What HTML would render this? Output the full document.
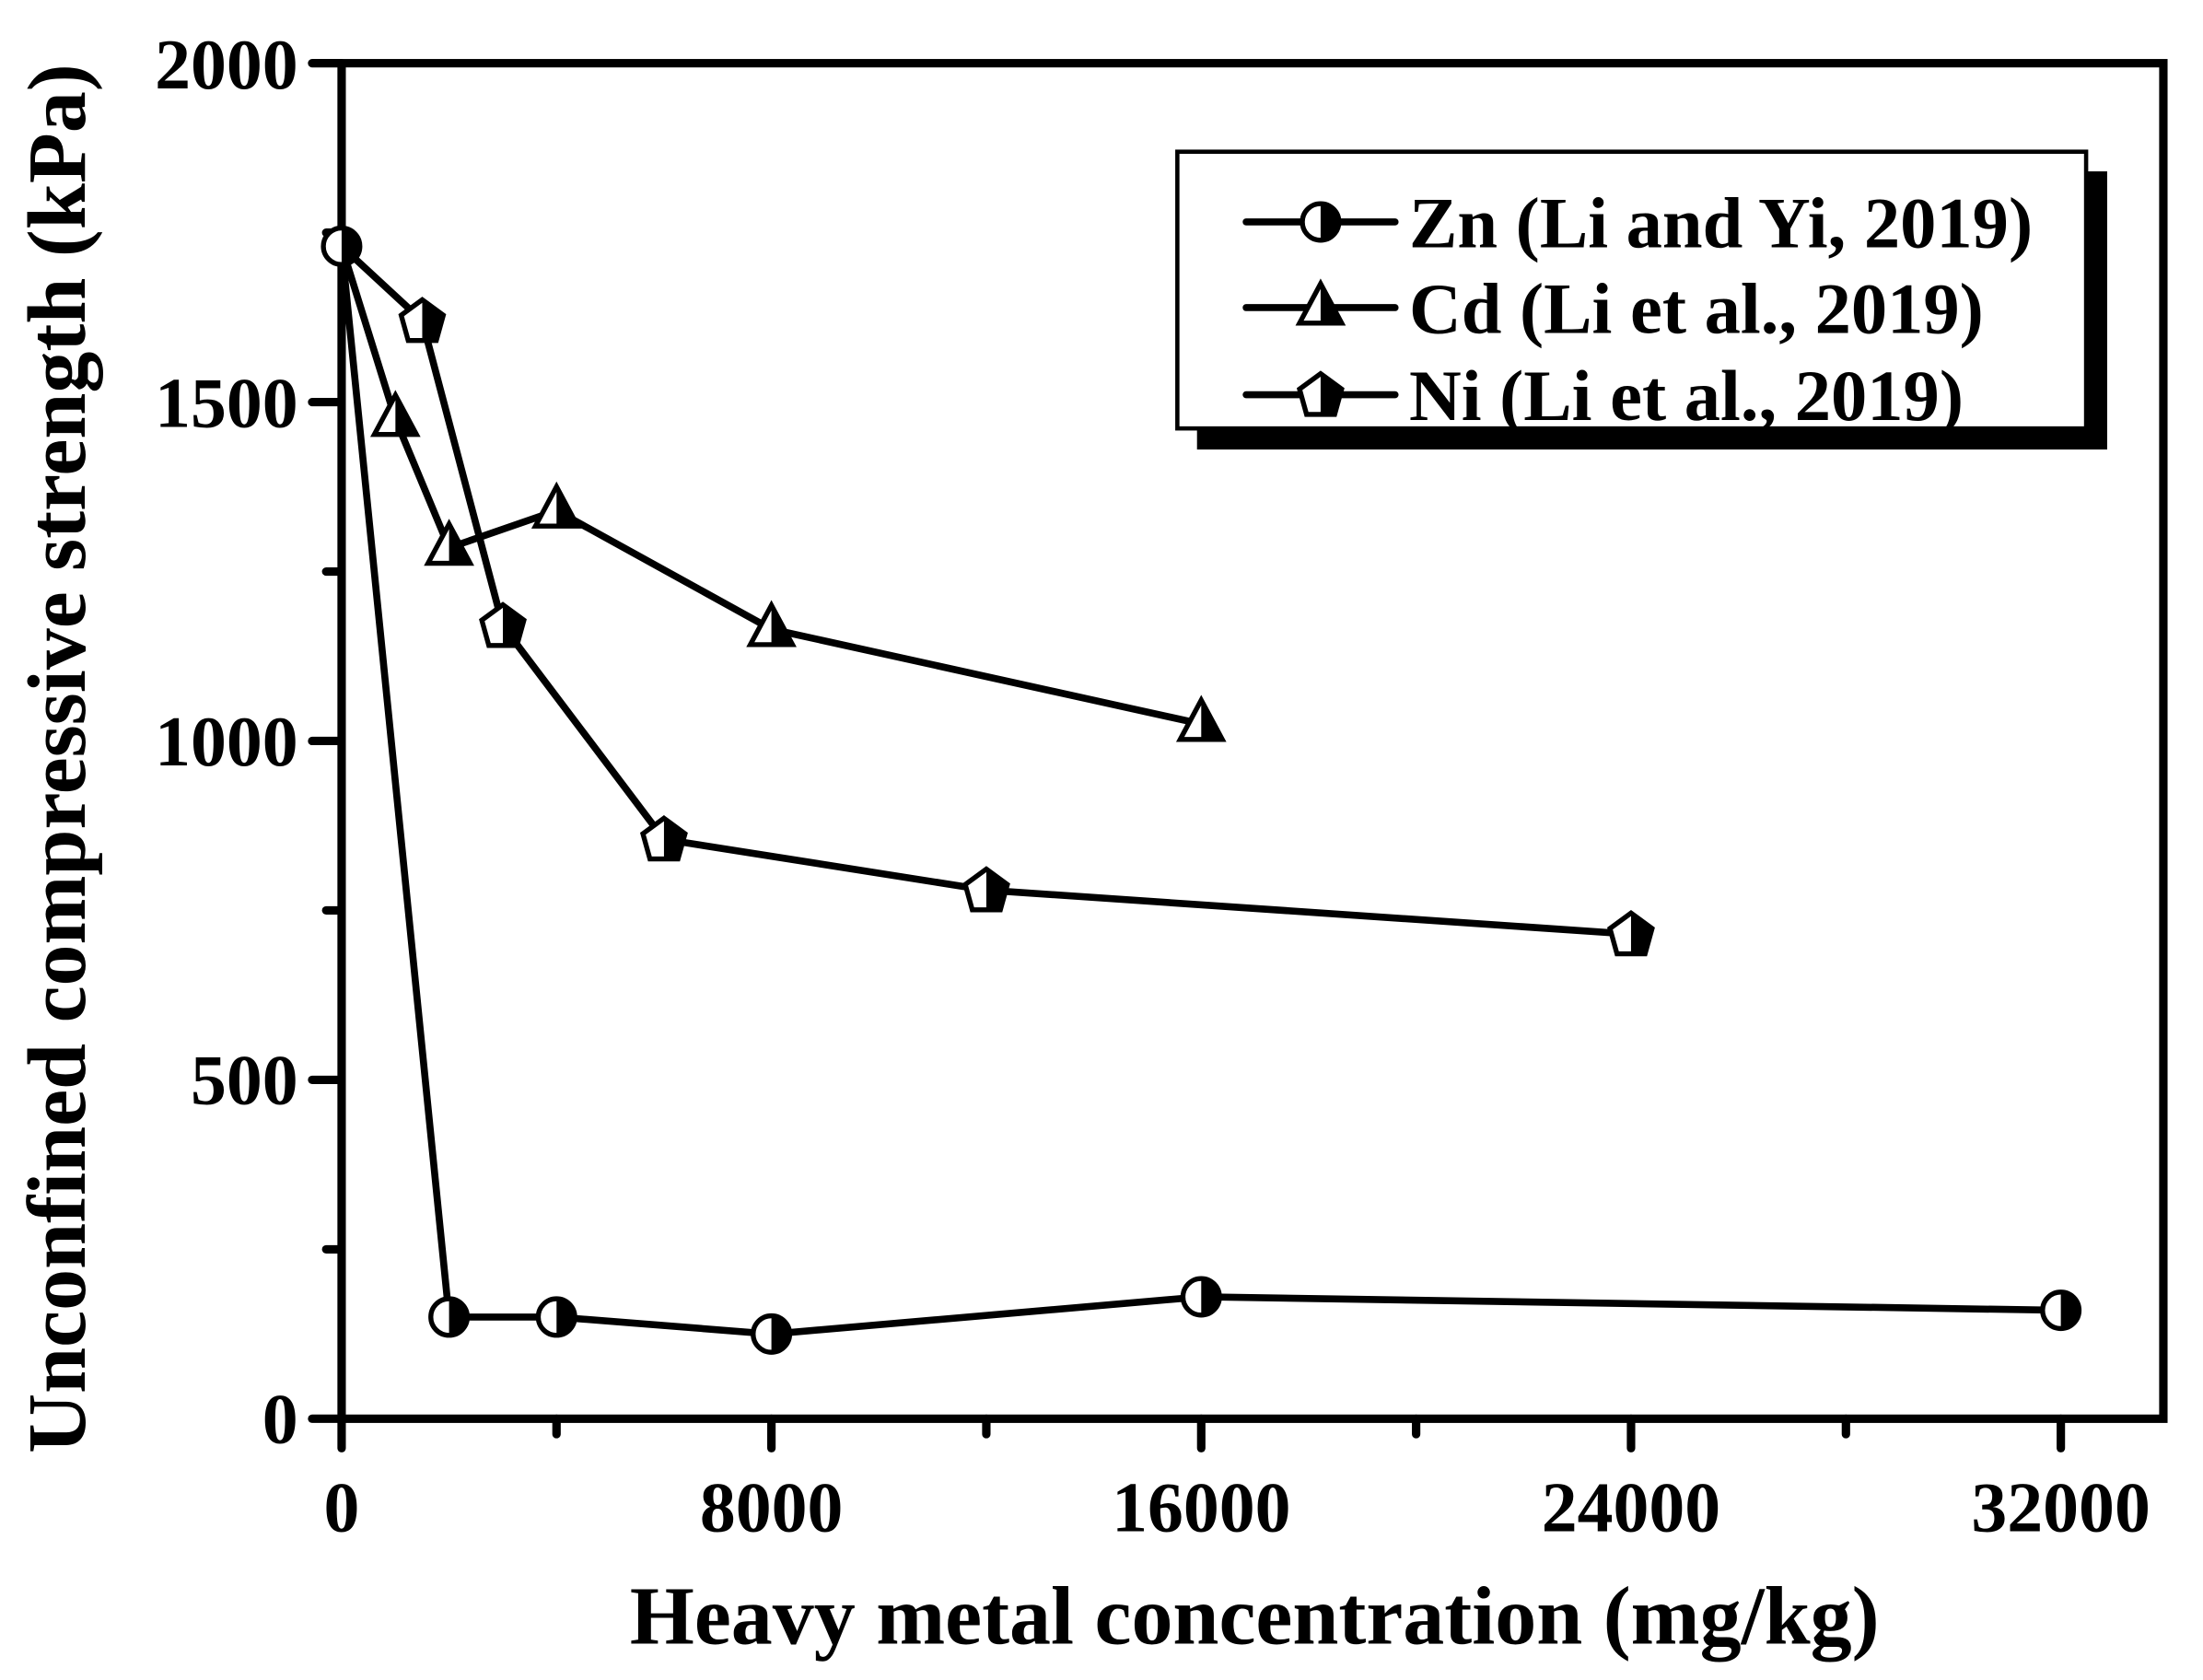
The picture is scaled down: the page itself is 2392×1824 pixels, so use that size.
<!DOCTYPE html>
<html><head><meta charset="utf-8"><style>html,body{margin:0;padding:0;background:#fff}svg{display:block}</style></head>
<body>
<svg width="2392" height="1824" viewBox="0 0 1568 1196" xmlns="http://www.w3.org/2000/svg" font-family="Liberation Serif, serif" font-weight="bold">
<defs>
<g id="circ"><circle r="13" fill="#fff" stroke="#000" stroke-width="3.5"/><path d="M0,-13 A13,13 0 0 1 0,13 Z" fill="#000"/></g>
<g id="tri"><path d="M0,-17 L-15,11 L15,11 Z" fill="#fff" stroke="#000" stroke-width="3.5" stroke-linejoin="miter"/><path d="M0,-17 L15,11 L0,11 Z" fill="#000"/></g>
<g id="pent"><path d="M0,-15 L15,-4 L10,14 L-10,14 L-15,-4 Z" fill="#fff" stroke="#000" stroke-width="3.5"/><path d="M0,-15 L15,-4 L10,14 L0,14 Z" fill="#000"/></g>
</defs>
<rect x="243" y="45" width="1297" height="965" fill="none" stroke="#000" stroke-width="6"/>
<g stroke="#000" stroke-width="6" stroke-linecap="round">
<line x1="222" y1="1010" x2="243" y2="1010"/><line x1="222" y1="768.75" x2="243" y2="768.75"/><line x1="222" y1="527.5" x2="243" y2="527.5"/><line x1="222" y1="286.25" x2="243" y2="286.25"/><line x1="222" y1="45" x2="243" y2="45"/>
<line x1="232" y1="889.4" x2="243" y2="889.4"/><line x1="232" y1="648.1" x2="243" y2="648.1"/><line x1="232" y1="406.9" x2="243" y2="406.9"/><line x1="232" y1="165.6" x2="243" y2="165.6"/>
<line x1="243" y1="1010" x2="243" y2="1031"/><line x1="549" y1="1010" x2="549" y2="1031"/><line x1="855" y1="1010" x2="855" y2="1031"/><line x1="1161" y1="1010" x2="1161" y2="1031"/><line x1="1467" y1="1010" x2="1467" y2="1031"/>
<line x1="396" y1="1010" x2="396" y2="1021"/><line x1="702" y1="1010" x2="702" y2="1021"/><line x1="1008" y1="1010" x2="1008" y2="1021"/><line x1="1314" y1="1010" x2="1314" y2="1021"/>
</g>
<g font-size="51" text-anchor="end">
<text x="212" y="1027">0</text><text x="212" y="786">500</text><text x="212" y="545">1000</text><text x="212" y="304">1500</text><text x="212" y="63">2000</text>
</g>
<g font-size="51" text-anchor="middle">
<text x="243" y="1090">0</text><text x="549" y="1090">8000</text><text x="855" y="1090">16000</text><text x="1161" y="1090">24000</text><text x="1467" y="1090">32000</text>
</g>
<text x="893" y="1170" font-size="59" text-anchor="middle">Heavy metal concentration (mg/kg)</text>
<text transform="translate(60,540) rotate(-90)" font-size="59" text-anchor="middle">Unconfined compressive strength (kPa)</text>
<g fill="none" stroke="#000" stroke-width="5">
<polyline points="243,175.3 319.5,937.6 396,937.6 549,949.7 855,923.2 1467,932.8"/>
<polyline points="243,175.3 281.3,298.3 319.5,390 396,363.5 549,447.9 855,515.4"/>
<polyline points="243,175.3 300.4,228.4 357.8,445.5 472.5,597.5 702,633.7 1161,665"/>
</g>
<g>
<use href="#circ" x="243" y="175.3"/>
<use href="#circ" x="319.5" y="937.6"/><use href="#circ" x="396" y="937.6"/><use href="#circ" x="549" y="949.7"/><use href="#circ" x="855" y="923.2"/><use href="#circ" x="1467" y="932.8"/>
<use href="#tri" x="281.3" y="298.3"/><use href="#tri" x="319.5" y="390"/><use href="#tri" x="396" y="363.5"/><use href="#tri" x="549" y="447.9"/><use href="#tri" x="855" y="515.4"/>
<use href="#pent" x="300.4" y="228.4"/><use href="#pent" x="357.8" y="445.5"/><use href="#pent" x="472.5" y="597.5"/><use href="#pent" x="702" y="633.7"/><use href="#pent" x="1161" y="665"/>
</g>
<rect x="852" y="122" width="648" height="198" fill="#000"/>
<rect x="838" y="108" width="647" height="197" fill="#fff" stroke="#000" stroke-width="3"/>
<g stroke="#000" stroke-width="5" stroke-linecap="round">
<line x1="887" y1="158" x2="993" y2="158"/><line x1="887" y1="219" x2="993" y2="219"/><line x1="887" y1="281" x2="993" y2="281"/>
</g>
<use href="#circ" x="940" y="158"/><use href="#tri" x="940" y="219"/><use href="#pent" x="940" y="281"/>
<g font-size="51.5">
<text x="1003" y="176">Zn (Li and Yi, 2019)</text>
<text x="1003" y="237">Cd (Li et al., 2019)</text>
<text x="1003" y="299">Ni (Li et al., 2019)</text>
</g>
</svg>
</body></html>
